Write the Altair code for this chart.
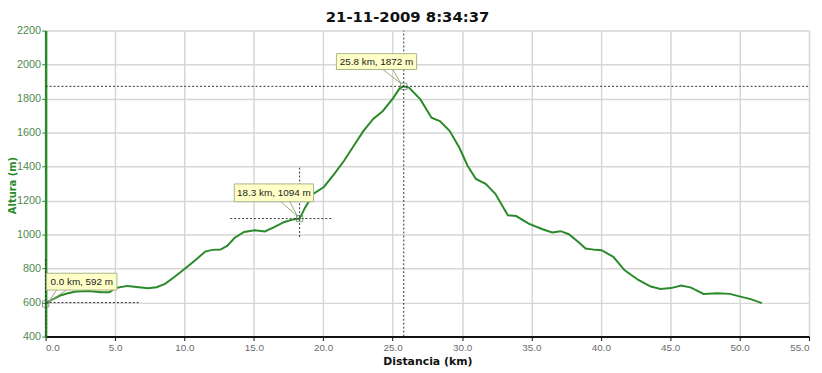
import altair as alt
import pandas as pd

# Profile data
dist_km = [0.0, 0.4, 1.0, 1.6, 2.2, 3.1, 4.0, 4.6, 5.05, 5.9, 6.7, 7.4, 8.0, 8.6, 9.3,
           10.05, 10.8, 11.5, 12.0, 12.6, 13.1, 13.6, 14.3, 15.05, 15.8, 16.5, 17.2,
           17.8, 18.3, 18.7, 19.3, 20.05, 20.8, 21.5, 22.2, 22.9, 23.6, 24.3, 25.05,
           25.5, 25.8, 26.2, 27.0, 27.8, 28.4, 29.1, 29.8, 30.4, 31.0, 31.7, 32.4,
           33.3, 33.9, 34.8, 35.8, 36.5, 37.1, 37.7, 38.4, 38.9, 39.6, 40.05, 40.9,
           41.7, 42.7, 43.6, 44.3, 45.05, 45.8, 46.5, 47.4, 48.4, 49.3, 50.05, 50.8, 51.6]
alt_m = [592, 615, 640, 655, 665, 668, 660, 660, 686, 698, 690, 684, 690, 710, 752,
         800, 850, 900, 910, 912, 935, 980, 1015, 1025, 1018, 1045, 1074,
         1088, 1094, 1160, 1240, 1280, 1357, 1434, 1522, 1610, 1680, 1727, 1804,
         1860, 1872, 1863, 1795, 1687, 1668, 1610, 1512, 1405, 1327, 1298, 1240,
         1113, 1109, 1064, 1031, 1012, 1020, 1002, 955, 918, 910, 908, 869,
         791, 733, 694, 680, 685, 700, 688, 651, 655, 651, 635, 620, 597]

# Marked points
mark_d = [0.0, 18.3, 25.8]
mark_v = [592, 1094, 1872]
mark_labels = ["0.0 km, 592 m", "18.3 km, 1094 m", "25.8 km, 1872 m"]

# Crosshair extents (km / m)
cross_h_from = [0.0, 13.3, 0.0]
cross_h_to = [6.7, 20.6, 55.0]
cross_h_at = [600, 1094, 1872]
cross_v_at = [0.0, 18.3, 25.8]
cross_v_from = [400, 986, 400]
cross_v_to = [860, 1395, 2200]

x_ticks = [0, 5, 10, 15, 20, 25, 30, 35, 40, 45, 50, 55]
y_ticks = [400, 600, 800, 1000, 1200, 1400, 1600, 1800, 2000, 2200]

prof = pd.DataFrame({"d": dist_km, "v": alt_m})
pts = pd.DataFrame({"d": mark_d, "v": mark_v, "label": mark_labels})
hx = pd.DataFrame({"d": cross_h_from, "d2": cross_h_to, "v": cross_h_at})
vx = pd.DataFrame({"d": cross_v_at, "v": cross_v_from, "v2": cross_v_to})

GREEN = "#2a8a2a"
xs = alt.Scale(domain=[0, 55], nice=False, zero=False)
ys = alt.Scale(domain=[400, 2200], nice=False, zero=False)

xaxis = alt.Axis(values=x_ticks, format=".1f", title="Distancia (km)",
                 labelColor="#6a6a6a", labelFont="Liberation Sans", labelFontSize=10,
                 labelOverlap=False,
                 titleFont="DejaVu Sans", titleFontSize=11, titleFontWeight="bold",
                 titleColor="#111111", titlePadding=3,
                 domainColor="#111111", domainWidth=2, tickColor="#111111", tickSize=4,
                 labelPadding=2, gridColor="#d6d6d6", gridWidth=1.5)
yaxis = alt.Axis(values=y_ticks, format="d", title="Altura (m)",
                 labelColor="#4f8a4f", labelFont="Liberation Sans", labelFontSize=11,
                 labelOverlap=False,
                 titleFont="DejaVu Sans", titleFontSize=10, titleFontWeight="bold",
                 titleColor=GREEN, titleX=-33, titleY=156, titleAngle=-90,
                 titleAlign="center", titleBaseline="middle",
                 domainColor=GREEN, domainWidth=2.5, tickColor=GREEN, tickSize=4,
                 labelPadding=1, gridColor="#d6d6d6", gridWidth=1.5)

X = alt.X("d:Q", scale=xs, axis=xaxis)
Y = alt.Y("v:Q", scale=ys, axis=yaxis)

line = alt.Chart(prof).mark_line(color=GREEN, strokeWidth=2).encode(x=X, y=Y)

hrule = alt.Chart(hx).mark_rule(color="#333333", strokeWidth=1, strokeDash=[2, 2]).encode(
    x=X, x2="d2:Q", y=Y)
vrule = alt.Chart(vx).mark_rule(color="#333333", strokeWidth=1, strokeDash=[2, 2]).encode(
    x=X, y=Y, y2="v2:Q")

squares = alt.Chart(pts).mark_point(shape="square", size=40, filled=False,
                                    color="#5a7a5a", strokeWidth=1).encode(x=X, y=Y)

# label box offsets (pixels relative to the marked point): box l, r, t, b; pointer base l, r, y; tip x, y
styles = [
    dict(l=1, r=72, t=-31, b=-14, pl=11, pr=21, py=-14, tx=3, ty=-2),
    dict(l=-66, r=14, t=-35, b=-17, pl=-19, pr=-10, py=-17, tx=-2, ty=-2),
    dict(l=-68, r=13, t=-33, b=-17, pl=-21, pr=-11, py=-17, tx=-3, ty=-3),
]

layers = [line, hrule, vrule]
for i, st in enumerate(styles):
    one = alt.Chart(pts.iloc[[i]])
    for px in (st["pl"], st["pr"]):
        layers.append(one.mark_rule(color="#9aa87a", strokeWidth=1,
                                    xOffset=px, yOffset=st["py"],
                                    x2Offset=st["tx"], y2Offset=st["ty"]).encode(
            x=X, x2="d:Q", y=Y, y2="v:Q"))
    layers.append(one.mark_rect(fill="#ffffc8", stroke="#a8b488", strokeWidth=1,
                                xOffset=st["l"], x2Offset=st["r"],
                                yOffset=st["t"], y2Offset=st["b"]).encode(
        x=X, x2="d:Q", y=Y, y2="v:Q"))
    layers.append(one.mark_text(font="Liberation Sans", fontSize=10, color="#222222",
                                align="center", baseline="middle",
                                dx=(st["l"] + st["r"]) / 2,
                                dy=(st["t"] + st["b"]) / 2).encode(
        text="label:N", x=X, y=Y))

layers.append(squares)

chart = alt.layer(*layers).properties(
    width=771, height=309,
    title=alt.TitleParams("21-11-2009 8:34:37", font="DejaVu Sans", fontSize=15,
                          fontWeight="bold", color="#111111", anchor="middle",
                          dx=-20, offset=0),
    autosize=alt.AutoSizeParams(type="none"),
    padding={"left": 38, "top": 21, "right": 5, "bottom": 35},
).configure_view(stroke=None)

chart.save("out.html", embed_options={"renderer": "svg", "actions": False})
